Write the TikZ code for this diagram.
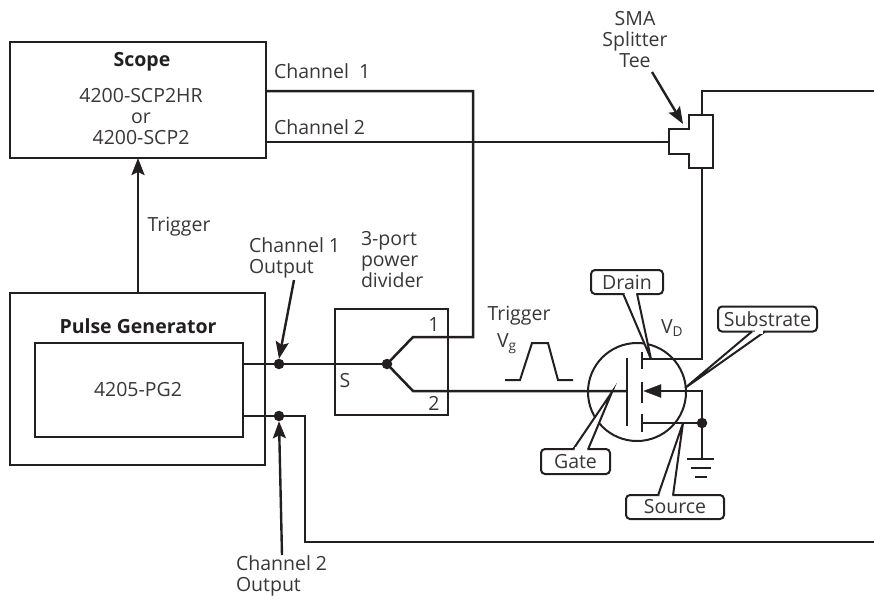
\documentclass[tikz,border=0pt]{standalone}
\usepackage{fontspec}
\setmainfont{Open Sans}
\usetikzlibrary{arrows.meta,calc}
\definecolor{ink}{HTML}{231F20}
\definecolor{txt}{HTML}{3A3637}
\newcommand{\lblfont}[1]{\fontsize{19.5}{#1}\selectfont}
\tikzset{
  x=1pt,y=-1pt,
  every node/.style={text=txt,font=\lblfont{21},inner sep=0pt,outer sep=0pt},
  boxed/.style={draw=ink,line width=2.6pt,fill=white,anchor=north west},
  wire/.style={draw=ink,line width=2.5pt},
  thinwire/.style={draw=ink,line width=2pt},
  pointer/.style={draw=ink,line width=2.4pt,-{Stealth[length=17pt,width=13pt,inset=3pt]}},
  callout/.style={draw=ink,line width=2pt,fill=white,rounded corners=4pt},
  tail/.style={draw=ink,line width=2pt,fill=white},
  dot/.style={circle,fill=ink,minimum size=10.5pt},
  lbl/.style={align=center,anchor=center},
  leftlbl/.style={align=left,anchor=west},
  titlelbl/.style={anchor=center,text=ink,font=\lblfont{21}\bfseries},
}
\begin{document}
\begin{tikzpicture}
\useasboundingbox (0,0) rectangle (874,598);
% boxes
\node[boxed,minimum width=256pt,minimum height=116pt] (scope) at (10,42) {};
\node[boxed,minimum width=255pt,minimum height=172pt] (pg) at (10,293) {};
\node[boxed,minimum width=208pt,minimum height=94pt] (pgin) at (35,343) {};
\node[boxed,minimum width=113pt,minimum height=106pt] (div) at (335,309) {};
\node[titlelbl] (scopet) at (142,62) {Scope};
\node[lbl] (scopem) at (141,117) {4200-SCP2HR\\or\\4200-SCP2};
\node[titlelbl] (pgt) at (138,326) {Pulse Generator};
\node[lbl] (pgm) at (138,390) {4205-PG2};
% coordinates
\coordinate (t1) at (473,91);
\coordinate (p1) at (413,337);
\coordinate (p2) at (413,391);
\coordinate (split) at (387,364);
\coordinate (o1) at (279,364);
\coordinate (o2) at (279,416);
\coordinate (o2c) at (305,416);
\coordinate (o2d) at (305,542);
\coordinate (gatept) at (627,391);
\coordinate (teeL) at (669,142);
\coordinate (teeT) at (702,115);
\coordinate (teeB) at (702,168);
\coordinate (dr) at (642,359);
\coordinate (drc) at (702,359);
\coordinate (subTip) at (644,391);
\coordinate (subS) at (660,391);
\coordinate (subC) at (702,391);
\coordinate (srcJ) at (702,423);
\coordinate (sr) at (642,423);
\coordinate (gnd) at (702,459);
\coordinate (outT) at (874,91);
\coordinate (outB) at (874,542);
% wiring
\draw[wire] (scope.east |- t1) -- (t1) -- (t1 |- p1) -- (p1) -- (split) -- (p2) -- (gatept);
\draw[wire] (scope.east |- teeL) -- (teeL);
\draw[wire] (pgin.east |- split) -- (split);
\draw[wire] (pgin.east |- o2) -- (o2c) -- (o2d) -- (outB);
\draw[wire] (teeT) -- (teeT |- outT) -- (outT);
\draw[wire] (teeB) -- (drc) -- (dr);
\draw[wire] (sr) -- (srcJ);
\draw[wire] (subS) -- (subC) -- (gnd);
\draw[draw=ink,fill=ink] (subTip) -- (661,384.5) -- (661,397.5) -- cycle;
\node[dot] (d1) at (o1) {};
\node[dot] (d2) at (o2) {};
\node[dot] (d3) at (split) {};
\node[dot] (d4) at (srcJ) {};
% tee
\draw[draw=ink,line width=2.6pt,fill=white,line join=miter] (689,115) -- (713,115) -- (713,168) -- (689,168) -- (689,154) -- (669,154) -- (669,129) -- (689,129) -- cycle;
% mosfet
\node[draw=ink,line width=2pt,circle,minimum size=98pt] (fet) at (637,392) {};
\draw[draw=ink,line width=2.4pt] (627,358) -- (627,426);
\draw[draw=ink,line width=2.6pt] (642,352) -- (642,369) (642,382) -- (642,403) (642,414) -- (642,432);
% ground
\draw[wire] (687,459) -- (714,459);
\draw[wire] (691,468) -- (711,468);
\draw[wire] (695,477) -- (707,477);
% pulse
\draw[thinwire] (505,380) -- (520,380) -- (532,343) -- (548,343) -- (558,380) -- (573,380);
% callouts
\node[callout,minimum width=72pt,minimum height=24pt,anchor=center] (drain) at (627,282) {Drain};
\filldraw[tail] (623,293.5) -- (651,359) -- (637,293.5);
\fill[white] (624.5,291.5) rectangle (636,296);
\node[callout,minimum width=69pt,minimum height=25pt,anchor=center] (gate) at (575.5,461.5) {Gate};
\filldraw[tail] (573,449.5) -- (612,392) -- (588,449.5);
\fill[white] (574.5,447) rectangle (586.5,451);
\node[callout,minimum width=98pt,minimum height=24pt,anchor=center] (source) at (675,507) {Source};
\filldraw[tail] (658,495.5) -- (683,423) -- (673,495.5);
\fill[white] (659.5,493) rectangle (671.5,497);
\node[callout,minimum width=99pt,minimum height=25pt,anchor=center] (subs) at (767.5,319) {Substrate};
\filldraw[tail] (752,331.5) -- (685,388) -- (765,331.5);
\fill[white] (754.5,329) rectangle (762.5,333.5);
% labels
\node[leftlbl] (c1) at (274,71) {Channel\ \ 1};
\node[leftlbl] (c2) at (274,127) {Channel 2};
\node[lbl] (trg) at (179,227) {Trigger};
\node[leftlbl] (c1o) at (249,258) {\lblfont{23}Channel 1\\Output};
\node[leftlbl] (c2o) at (236,576) {\lblfont{21}Channel 2\\Output};
\node[leftlbl] (pwr) at (361,260) {3-port\\power\\divider};
\node[lbl] (s) at (345,381) {S};
\node[lbl] (n1) at (434,325) {1};
\node[lbl] (n2) at (434,403) {2};
\node[lbl] (tg) at (519,316) {Trigger};
\node[leftlbl] (vg) at (497,344) {V\textsubscript{g}};
\node[leftlbl] (vd) at (661,328) {V\textsubscript{D}};
\node[lbl] (sma) at (635,40) {\lblfont{22}SMA\\Splitter\\Tee};
% arrows
\coordinate (ta) at (138,293);
\draw[pointer] (pg.north -| ta) -- (scope.south -| ta);
\coordinate (c1a) at (294,280);
\draw[pointer] (c1a) -- (d1.north);
\coordinate (c2a) at (282,555);
\draw[pointer] (c2a) -- (d2.south);
\coordinate (ma) at (652,72);
\coordinate (mb) at (683,124);
\draw[pointer] (ma) -- (mb);
\end{tikzpicture}
\end{document}
